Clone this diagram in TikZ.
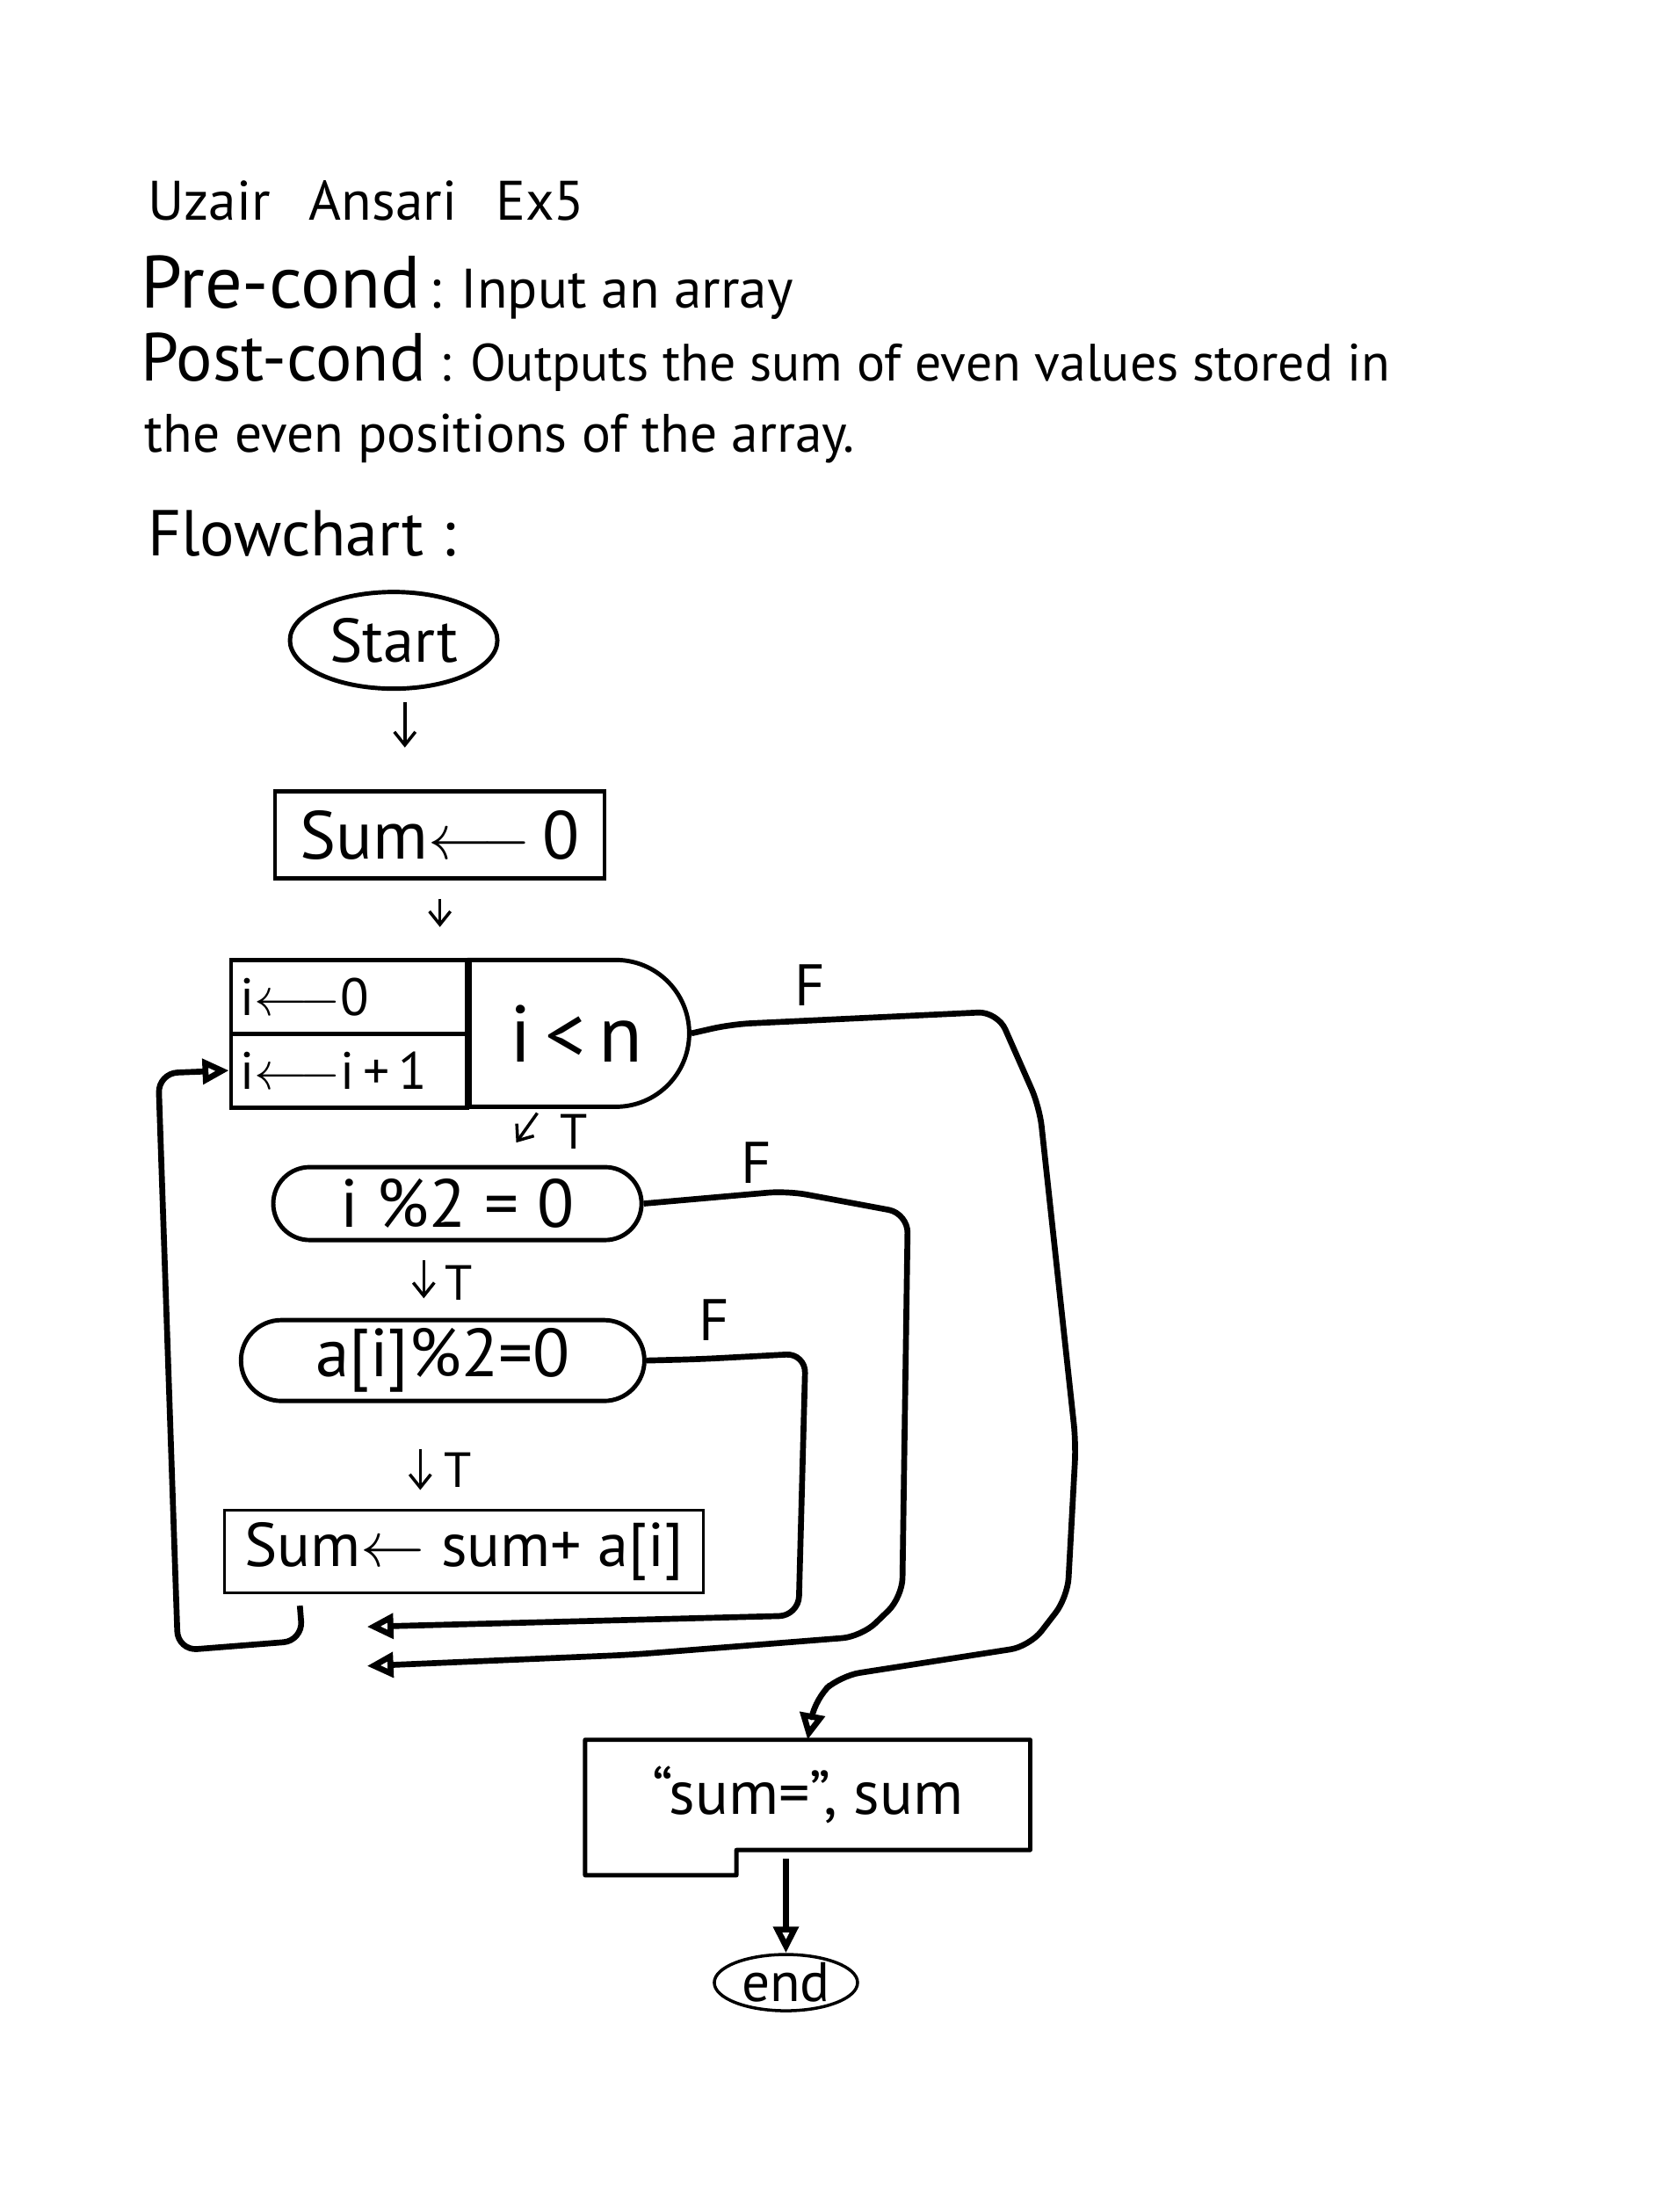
\documentclass[tikz,border=0pt]{standalone}
\usepackage{fontspec}
\setmainfont{PT Sans}
\usetikzlibrary{arrows.meta,calc,shapes.geometric,shapes.misc}

\begin{document}
\begin{tikzpicture}[x=0.1594mm,y=-0.1594mm,
    txt/.style={inner sep=0pt,anchor=base west},
    outline/.style={draw,line width=1.4pt,inner sep=0pt},
    flow/.style={line width=1.9pt,rounded corners=2.2mm,line join=round,
      -{Triangle[open,length=3mm,width=2.8mm]}},
    tick/.style={line width=1pt,-{Straight Barb[length=1.5mm,width=2.4mm]}},
    tf/.style={inner sep=0pt,font=\fontsize{16}{18}\selectfont},
    ff/.style={inner sep=0pt,font=\fontsize{19}{22}\selectfont}]
    \useasboundingbox (0,0) rectangle (1199,1568);

    % heading
    \node[txt,font=\fontsize{18}{22}\selectfont] (title) at (105,157) {Uzair\hspace{0.7em}Ansari\hspace{0.7em}Ex5};
    \node[txt] (pre) at (100,220) {{\fontsize{24}{28}\selectfont Pre-cond} {\fontsize{18}{22}\selectfont : Input an array}};
    \node[txt] (post) at (100,272) {{\fontsize{22}{26}\selectfont Post-cond}{\fontsize{17}{21}\selectfont\ : Outputs the sum of even values stored in}};
    \node[txt,font=\fontsize{17.5}{21}\selectfont] (posttwo) at (103,323) {the even positions of the array.};
    \node[txt,font=\fontsize{21}{25}\selectfont] (flowlbl) at (105,397) {Flowchart :};

    % flowchart
    \node[outline,ellipse,minimum width=23.6mm,minimum height=11mm,font=\fontsize{20}{24}\selectfont] (start) at (281,457) {Start};
    \node[outline,line width=1.3pt,minimum width=37.5mm,minimum height=9.9mm,font=\fontsize{22}{26}\selectfont] (sum0) at (314,596) {Sum$\longleftarrow$\,0};
    \node[outline,inner xsep=1.1mm,text width=24.6mm,align=left,minimum height=8.4mm,font=\fontsize{17}{20}\selectfont] (init) at (249,711.5) {i$\longleftarrow$0};
    \node[outline,inner xsep=1.1mm,text width=24.6mm,align=left,minimum height=8.4mm,font=\fontsize{17}{20}\selectfont] (incr) at (249,764) {i$\longleftarrow$i\,+\,1};
    \node[outline,rounded rectangle,rounded rectangle west arc=none,minimum width=25mm,minimum height=16.7mm,font=\fontsize{26}{30}\selectfont] (cond) at (411.5,737.5) {i\,<\,n};
    \node[outline,rounded rectangle,minimum width=41.9mm,minimum height=8.3mm,font=\fontsize{22}{26}\selectfont] (ipar) at (326.5,859) {i \%2 = 0};
    \node[outline,rounded rectangle,minimum width=45.9mm,minimum height=9.2mm,font=\fontsize{22}{26}\selectfont] (apar) at (316,971) {a[i]\%2=0};
    \node[draw,line width=0.9pt,inner sep=0pt,minimum width=54.5mm,minimum height=9.4mm,font=\fontsize{20}{24}\selectfont] (addbox) at (331,1107.5) {Sum$\leftarrow$ sum+ a[i]};
    \node[inner sep=0pt,minimum width=50.5mm,minimum height=12.4mm,font=\fontsize{20}{24}\selectfont] (out) at (576.5,1281) {“sum=”, sum};
    \draw[line width=1.4pt,line join=round] (out.north west) -- (out.north east) -- (out.south east)
      -- ($(out.south west)!0.34!(out.south east)$) -- ++(0,18) -| (out.north west) -- cycle;
    \node[outline,ellipse,line width=1pt,minimum width=16.3mm,minimum height=6.4mm,font=\fontsize{18}{22}\selectfont] (endnode) at (561,1415) {end};

    % labels
    \node[tf] (t1) at ($(cond.south)+(-2,16)$) {T};
    \node[tf] (t2) at ($(ipar.south)+(1,29)$) {T};
    \node[tf] (t3) at ($(apar.south)+(11,48)$) {T};
    \node[ff] (f1) at (578,703) {F};
    \node[ff] (f2) at (540,830) {F};
    \node[ff] (f3) at (510,942) {F};
    \coordinate (join1) at (262,1161);
    \coordinate (join2) at (262,1189);

    % connectors
    \draw[tick] ($(start.south)+(8,8)$) -- ($(start.south |- sum0.north)+(8,-30)$);
    \draw[tick] ($(sum0.south)+(0,13)$) -- ($(sum0.south |- init.north)+(0,-22)$);
    \draw[tick] ($(cond.south)+(-28,3)$) -- ($(cond.south)+(-43,24)$);
    \draw[tick] ($(ipar.south)+(-24,13)$) -- ($(ipar.south)+(-24,40)$);
    \draw[tick] ($(apar.south)+(-16,33)$) -- ($(apar.south)+(-16,62)$);
    \draw[flow] (cond.east) -- (522,731) -- (712,722) -- (742,790) -- (768,1030) -- (762,1140)
      -- (735,1175) -- (600,1196) -- (582,1212) -- (out.north);
    \draw[flow] (ipar.east) -- (562,850) -- (648,866) -- (644,1140) -- (615,1168) -- (450,1181) -- (join2);
    \draw[flow] (apar.east) -- (500,970) -- (575,966) -- (570,1153) -- (join1);
    \draw[flow] ($(addbox.south west)+(55,8)$) -- ++(2,25) -- (127,1178) -- (113,766) -- (incr.west);
    \draw[flow,shorten <=1mm] (endnode.north |- out.south) -- (endnode.north);
\end{tikzpicture}
\end{document}
